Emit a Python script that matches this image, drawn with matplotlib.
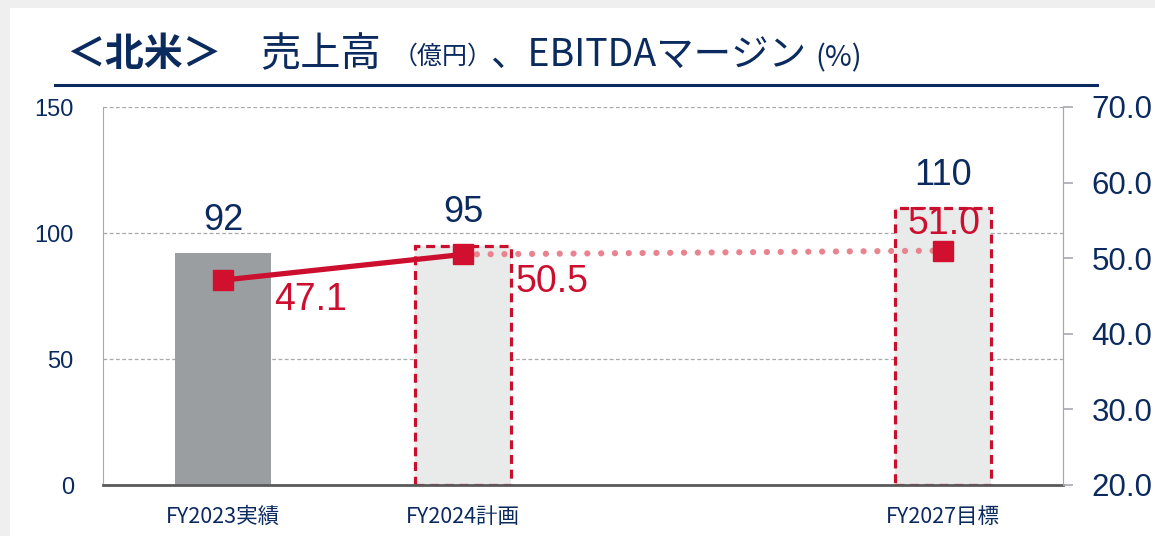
import matplotlib
matplotlib.use("Agg")
import matplotlib.pyplot as plt
from matplotlib.patches import Rectangle
import numpy as np

# ---- data ----
categories = ["FY2023実績", "FY2024計画", "", "FY2027目標"]
sales = [92, 95, None, 110]
margin = [47.1, 50.5, None, 51.0]
sales_ticks = [0, 50, 100, 150]
margin_ticks = [20.0, 30.0, 40.0, 50.0, 60.0, 70.0]
title_parts = ["＜北米＞", "売上高", "（億円）", "、EBITDAマージン", "(%)"]

NAVY = "#0B2A5E"
RED = "#CC0E2F"
PINK = "#E8838F"
GRAY_BAR = "#9B9EA0"
LIGHT_BAR = "#E9EBEA"
SPINE = "#A6A9B0"

JP = ["Noto Sans CJK JP", "DejaVu Sans"]
NUM = ["Liberation Sans", "DejaVu Sans"]

W, H = 1155, 536
fig = plt.figure(figsize=(W / 100, H / 100), dpi=100)
fig.patch.set_facecolor("#EFEFEF")
fig.patches.append(Rectangle((10 / W, 0), 1, 1 - 8 / H, transform=fig.transFigure,
                             facecolor="white", edgecolor="none", zorder=-10))

def px(x, y):
    return x / W, 1 - y / H

ax = fig.add_axes([103 / W, (H - 485) / H, (1063 - 103) / W, (485 - 107) / H])
ax.set_facecolor("none")
x = np.arange(len(categories))
ax.set_xlim(-0.5, len(categories) - 0.5)
ax.set_ylim(0, 150)

# bars
for i, v in enumerate(sales):
    if v is None:
        continue
    if i == 0:
        ax.bar(x[i], v, width=0.4, color=GRAY_BAR, zorder=2)
    else:
        ax.bar(x[i], v, width=0.4, color=LIGHT_BAR, zorder=2)
        ax.bar(x[i], v, width=0.4, facecolor="none", edgecolor="#C8102E",
               linewidth=2.3, linestyle=(0, (2.8, 1.8)), zorder=3)
    ax.annotate(f"{v}", (x[i], v), xytext=(0, 11), textcoords="offset points",
                ha="center", va="bottom", fontsize=26, color=NAVY, family=NUM)

ax.set_yticks(sales_ticks)
ax.set_yticklabels([str(t) for t in sales_ticks], fontsize=17, color=NAVY, family=NUM)
ax.tick_params(axis="y", length=0, pad=21)
ax.set_xticks(x)
ax.set_xticklabels(categories, fontsize=15.5, color=NAVY, family=JP)
ax.tick_params(axis="x", length=0, pad=15)
ax.yaxis.grid(True, linestyle=(0, (3, 2)), color="#A8A8A8", linewidth=0.9, zorder=0)
ax.set_axisbelow(True)
ax.spines["top"].set_visible(False)
ax.spines["left"].set_color(SPINE)
ax.spines["right"].set_color(SPINE)
ax.spines["bottom"].set_color("#5A5A5A")
ax.spines["bottom"].set_linewidth(2)
ax.spines["bottom"].set_zorder(5)

# margin axis
ax2 = ax.twinx()
ax2.set_ylim(20, 70)
ax2.set_yticks(margin_ticks)
ax2.set_yticklabels([f"{t:.1f}" for t in margin_ticks], fontsize=22.5, color=NAVY, family=NUM)
ax2.tick_params(axis="y", which="major", right=True, left=False, length=7, width=1.2,
                color=SPINE, pad=13.5)
for s in ["top", "left", "bottom"]:
    ax2.spines[s].set_visible(False)
ax2.spines["right"].set_color(SPINE)

ax2.plot(x[:2], margin[:2], color=RED, linewidth=3.8, zorder=4)
ax2.plot([x[1], x[3]], [margin[1], margin[3]], color=PINK, linewidth=4.5,
         linestyle=(0, (0.01, 2.2)), dash_capstyle="round", zorder=3)
mx = [x[i] for i in range(len(margin)) if margin[i] is not None]
my = [m for m in margin if m is not None]
ax2.plot(mx, my, linestyle="none", marker="s", markersize=15, color="#D0102E", zorder=5)

# margin labels
ax2.annotate(f"{margin[0]:.1f}", (x[0], margin[0]), xytext=(37, -14), textcoords="offset points",
             ha="left", va="center", fontsize=27, color=RED, family=NUM)
ax2.annotate(f"{margin[1]:.1f}", (x[1], margin[1]), xytext=(38, -20), textcoords="offset points",
             ha="left", va="center", fontsize=27, color=RED, family=NUM)
ax2.annotate(f"{margin[3]:.1f}", (x[3], margin[3]), xytext=(1, 19), textcoords="offset points",
             ha="center", va="center", fontsize=27, color=RED, family=NUM)

# title
fig.text(*px(66, 66), title_parts[0], fontsize=28, fontweight="bold", color=NAVY, family=JP, va="baseline")
fig.text(*px(260, 66), title_parts[1], fontsize=29, color=NAVY, family=JP, va="baseline")
fig.text(*px(393, 64), title_parts[2], fontsize=18, color=NAVY, family=JP, va="baseline")
fig.text(*px(490, 66), title_parts[3], fontsize=27, color=NAVY, family=JP, va="baseline")
fig.text(*px(815, 66), title_parts[4], fontsize=21, color=NAVY, family=JP, va="baseline")
fig.add_artist(plt.Line2D([55 / W, 1097 / W], [1 - 85 / H, 1 - 85 / H], transform=fig.transFigure,
                          color=NAVY, linewidth=2.2))

fig.savefig("out.png", dpi=100)
